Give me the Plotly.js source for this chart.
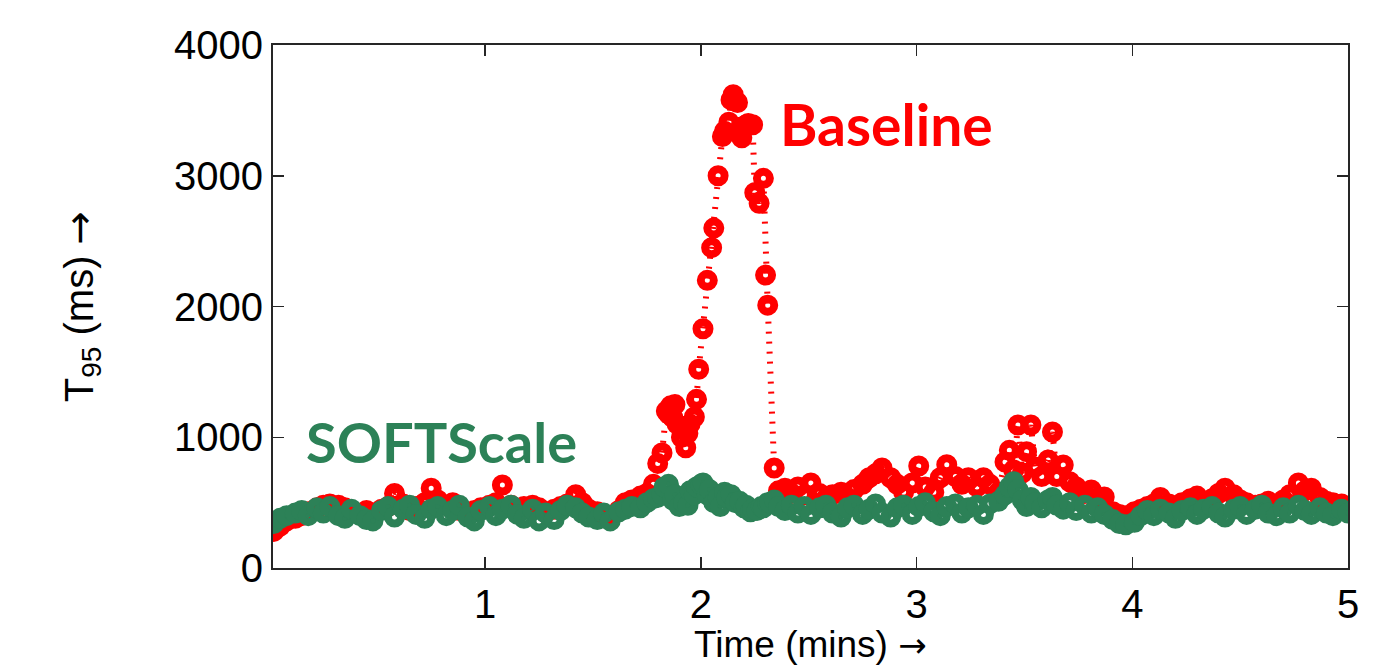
<!DOCTYPE html>
<html>
<head>
<meta charset="utf-8">
<script src="https://cdn.plot.ly/plotly-3.0.1.min.js"></script>
<style>html,body{margin:0;padding:0;background:#fff;}#chart{width:1383px;height:667px;}</style>
</head>
<body>
<div id="chart"></div>
<script>
// Baseline (red) series: time in minutes, T95 in ms
const baselineTime = [
  0.02,0.05,0.08,0.12,0.15,0.18,0.22,0.25,0.28,0.32,
  0.35,0.38,0.42,0.45,0.48,0.52,0.55,0.58,0.62,0.65,
  0.68,0.72,0.75,0.78,0.82,0.85,0.88,0.92,0.95,0.98,
  1.02,1.05,1.08,1.12,1.15,1.18,1.22,1.25,1.28,1.32,
  1.35,1.38,1.42,1.45,1.48,1.52,1.55,1.58,1.62,1.65,
  1.68,1.72,1.75,1.78,
  1.80,1.82,1.84,1.85,1.86,1.87,1.88,1.89,1.91,1.92,
  1.93,1.94,1.95,1.97,1.98,1.99,2.01,2.03,2.05,2.06,
  2.08,2.10,2.11,2.13,2.14,2.15,2.17,2.18,2.19,2.21,
  2.22,2.24,2.25,2.27,2.29,2.30,2.31,2.34,
  2.36,2.39,2.42,2.45,2.48,2.51,2.55,2.58,2.61,2.65,
  2.68,2.71,2.75,2.78,2.81,2.84,2.88,2.91,2.94,2.98,
  3.01,3.04,3.08,3.11,3.14,3.18,3.21,3.24,3.28,3.31,
  3.34,3.38,3.41,3.43,3.45,3.47,3.49,3.51,3.53,3.55,
  3.58,3.61,3.63,3.65,3.68,3.71,3.74,3.78,3.81,3.84,
  3.87,3.91,3.94,3.97,4.01,4.04,4.07,4.10,4.13,4.17,
  4.20,4.23,4.27,4.30,4.33,4.37,4.40,4.43,4.47,4.50,
  4.53,4.57,4.60,4.63,4.67,4.70,4.73,4.77,4.80,4.83,
  4.87,4.90,4.93,4.97,5.00
];
const baselineMs = [
  280,320,360,380,400,430,460,480,490,480,
  460,430,410,440,420,450,470,570,490,440,
  470,500,610,520,480,500,440,420,440,460,
  480,500,635,480,450,470,480,460,430,450,
  470,490,560,500,450,430,410,400,440,500,
  520,550,570,640,
  800,880,1200,1180,1240,1150,1250,1100,1000,1060,
  920,1030,1100,1155,1290,1520,1830,2200,2450,2600,
  3000,3300,3340,3410,3580,3620,3560,3330,3290,3390,
  3400,3390,2870,2790,2980,2240,2010,765,
  590,610,570,620,560,650,570,530,560,580,
  540,600,640,690,720,765,690,640,580,650,
  780,620,580,690,790,700,640,690,620,690,
  640,580,811,900,750,1094,726,890,1094,772,
  700,826,1040,700,788,660,620,570,597,530,
  543,430,410,400,430,450,470,490,540,490,
  470,500,530,550,510,530,570,610,560,520,
  500,480,490,510,480,520,560,650,590,610,
  540,510,500,490,470
];

// SOFTScale (green) series
const softTime = [
  0.02,0.05,0.08,0.12,0.15,0.18,0.22,0.25,0.28,0.32,
  0.35,0.38,0.42,0.45,0.48,0.52,0.55,0.58,0.62,0.65,
  0.68,0.72,0.75,0.78,0.82,0.85,0.88,0.92,0.95,0.98,
  1.02,1.05,1.08,1.12,1.15,1.18,1.22,1.25,1.28,1.32,
  1.35,1.38,1.42,1.45,1.48,1.52,1.55,1.58,1.62,1.65,
  1.68,1.72,1.75,1.78,
  1.80,1.82,1.83,1.85,1.87,1.88,1.90,1.92,1.94,1.95,
  1.97,1.98,2.00,2.01,2.03,2.04,2.06,2.08,2.09,2.11,
  2.12,2.14,2.16,2.18,2.20,2.21,2.23,2.24,2.26,2.28,
  2.29,2.31,2.32,
  2.34,2.36,2.39,2.42,2.45,2.48,2.51,2.55,2.58,2.61,
  2.65,2.68,2.71,2.75,2.78,2.81,2.84,2.88,2.91,2.94,
  2.98,3.01,3.04,3.08,3.11,3.14,3.18,3.21,3.24,3.28,
  3.31,3.34,3.38,3.41,3.43,3.45,3.47,3.49,3.51,3.53,
  3.55,3.58,3.61,3.63,3.65,3.68,3.71,3.74,3.78,3.81,
  3.84,3.87,3.91,3.94,3.97,4.01,4.04,4.07,4.10,4.13,
  4.17,4.20,4.23,4.27,4.30,4.33,4.37,4.40,4.43,4.47,
  4.50,4.53,4.57,4.60,4.63,4.67,4.70,4.73,4.77,4.80,
  4.83,4.87,4.90,4.93,4.97,5.00
];
const softMs = [
  340,380,400,420,440,400,460,420,470,400,
  380,450,400,370,360,440,470,390,450,480,
  410,380,450,470,400,440,480,390,360,440,
  470,400,450,480,410,380,450,360,420,370,
  440,480,460,420,390,370,420,360,430,450,
  470,460,500,530,
  540,560,620,640,520,560,470,500,480,590,
  560,620,640,650,560,600,500,540,470,580,
  540,560,500,510,460,480,430,450,440,470,
  460,500,500,
  520,470,440,480,420,470,410,460,480,420,
  390,460,480,410,450,490,420,390,460,480,
  410,470,500,430,400,470,490,420,460,480,
  410,490,510,560,620,660,600,520,470,540,
  500,460,520,540,480,450,500,440,480,420,
  460,410,370,340,330,350,400,440,400,450,
  420,380,440,460,410,450,470,420,390,450,
  470,410,450,480,420,400,460,420,480,440,
  410,460,420,400,450,420
];

const xTickVals = [1, 2, 3, 4, 5];
const yTickVals = [0, 1000, 2000, 3000, 4000];

const RED = '#ff0000';
const GREEN = '#2c8157';

function series(x, y, color) {
  return {
    type: 'scatter', mode: 'lines+markers', x: x, y: y,
    line: { color: color, width: 6, dash: '2px,8px' },
    marker: { symbol: 'circle-open', size: 13, color: color, line: { width: 8, color: color } },
    hoverinfo: 'x+y'
  };
}

const traces = [
  series(baselineTime, baselineMs, RED),
  series(softTime, softMs, GREEN)
];

const axisFont = { family: 'Liberation Sans, Arial, sans-serif', size: 40, color: '#000' };
const xTitleFont = { family: 'Liberation Sans, Arial, sans-serif', size: 37, color: '#000' };
const ARROW = '<span style="font-family:DejaVu Sans">→</span>';
const ARROW_SMALL = '<span style="font-family:DejaVu Sans;font-size:34px">→</span>';

const layout = {
  width: 1383, height: 667,
  margin: { l: 273, r: 35, t: 45, b: 99 },
  paper_bgcolor: '#fff', plot_bgcolor: '#fff',
  showlegend: false,
  xaxis: {
    range: [1/60, 5], tickvals: xTickVals, ticktext: xTickVals.map(String),
    ticks: 'inside', ticklen: 11, tickwidth: 1.5, tickcolor: '#262626',
    showline: true, linecolor: '#262626', linewidth: 2, mirror: 'ticks',
    showgrid: false, zeroline: false, tickfont: axisFont
  },
  yaxis: {
    range: [0, 4000], tickvals: yTickVals, ticktext: yTickVals.map(String),
    ticks: 'inside', ticklen: 11, tickwidth: 1.5, tickcolor: '#262626',
    showline: true, linecolor: '#262626', linewidth: 2, mirror: 'ticks',
    showgrid: false, zeroline: false, tickfont: axisFont,
    title: { text: 'T<sub>95</sub> (ms) ' + ARROW, font: axisFont, standoff: 68 }
  },
  annotations: [
    { x: 0.5, y: -0.104, xref: 'paper', yref: 'paper', text: 'Time (mins) ' + ARROW_SMALL, showarrow: false,
      xanchor: 'center', yanchor: 'top', font: xTitleFont },
    { x: 2.862, y: 3396, xref: 'x', yref: 'y', text: '<b>Baseline</b>', showarrow: false,
      xanchor: 'center', yanchor: 'middle', font: { family: 'Lato, Open Sans, sans-serif', size: 57, color: RED } },
    { x: 0.80, y: 971, xref: 'x', yref: 'y', text: '<b>SOFTScale</b>', showarrow: false,
      xanchor: 'center', yanchor: 'middle', font: { family: 'Lato, Open Sans, sans-serif', size: 56, color: GREEN } }
  ]
};

Plotly.newPlot('chart', traces, layout, { displayModeBar: false, staticPlot: true });
</script>
</body>
</html>
